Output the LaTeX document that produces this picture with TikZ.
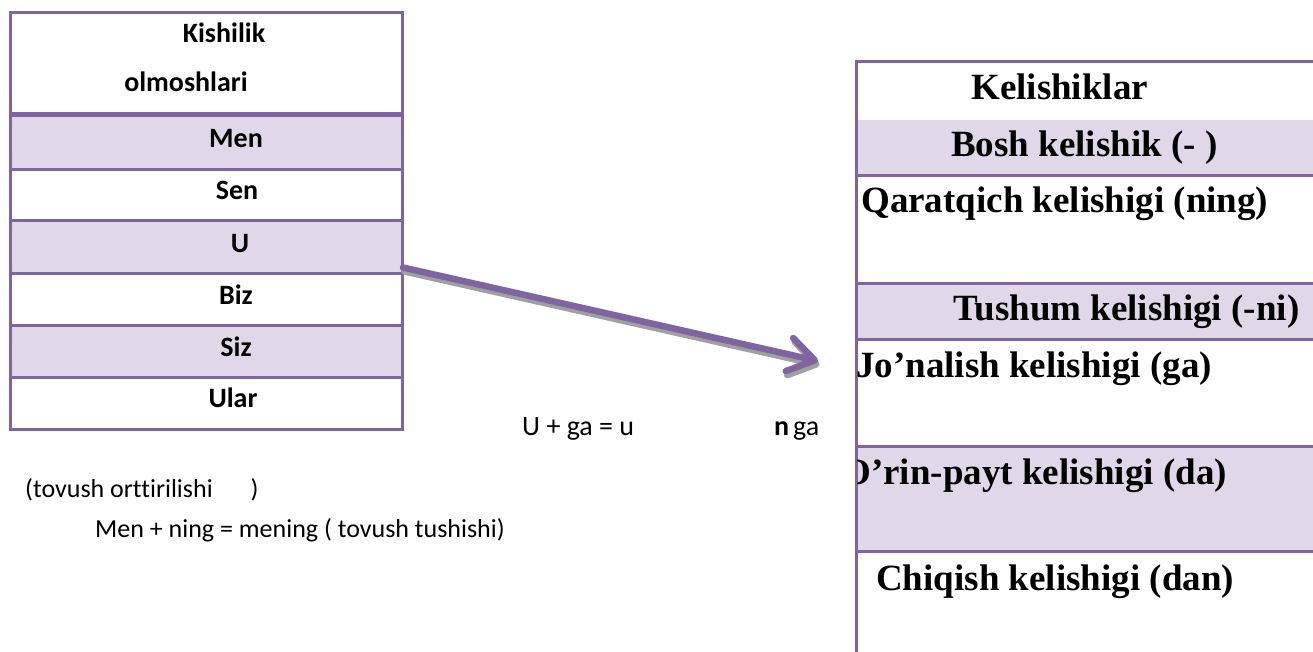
\documentclass[tikz,border=0pt]{standalone}
\usepackage{fontspec}
\setmainfont{Carlito}[Ligatures={NoCommon}]
\newfontfamily\tnr{Liberation Serif}
\usetikzlibrary{arrows.meta}
\definecolor{pur}{HTML}{8064A2}
\definecolor{lav}{HTML}{E0D8E8}
\definecolor{shd}{HTML}{A0A0A0}
\begin{document}
\begin{tikzpicture}[x=1pt,y=-1pt,
  ltxt/.style={anchor=base,font=\fontsize{28}{30}\selectfont\bfseries,inner sep=0pt},
  rtxt/.style={anchor=base west,font=\fontsize{37}{40}\selectfont\tnr\bfseries,inner sep=0pt},
  btxt/.style={anchor=base west,font=\fontsize{26}{28}\selectfont,inner sep=0pt},
  mtxt/.style={anchor=base west,font=\fontsize{28}{30}\selectfont,inner sep=0pt},
  gridline/.style={draw=pur,line width=3pt},
  arrowline/.style={line width=6.5pt,line cap=round,-{Straight Barb[length=26pt,width=34pt,line cap=round,line join=round]}}]
\useasboundingbox (0,0) rectangle (1313,652);
\clip (0,0) rectangle (1313,652);
% ---------- left table ----------
\fill[lav] (10.5,114.5) rectangle (402.5,169.5);
\fill[lav] (10.5,221) rectangle (402.5,273.3);
\fill[lav] (10.5,325.3) rectangle (402.5,377.5);
\foreach \yy in {169.5,221,273.3,325.3,377.5}
  \draw[gridline] (10.5,\yy) -- (402.5,\yy);
\draw[draw=pur,line width=5pt] (10.5,114.5) -- (402.5,114.5);
\draw[gridline] (10.5,13) rectangle (402.5,429);
\node[ltxt] (kis) at (224,43) {Kishilik};
\node[ltxt] (olm) at (186,92) {olmoshlari};
\node[ltxt] (men) at (236,148) {Men};
\node[ltxt] (sen) at (237,200) {Sen};
\node[ltxt] (u) at (240,252) {U};
\node[ltxt] (biz) at (236,304) {Biz};
\node[ltxt] (siz) at (236,356) {Siz};
\node[ltxt] (ular) at (233,407) {Ular};
% ---------- right table ----------
\fill[lav] (856,120) rectangle (1320,176);
\fill[lav] (856,283) rectangle (1320,339);
\fill[lav] (856,446.5) rectangle (1320,551);
\foreach \yy in {176,283,339,446.5,551}
  \draw[gridline] (856,\yy) -- (1320,\yy);
\draw[gridline] (1320,61.5) -- (856,61.5) -- (856,660);
\node[rtxt] (kel) at (971,100) {Kelishiklar};
\node[rtxt] (bosh) at (951,157) {Bosh kelishik (- )};
\node[rtxt] (qar) at (861,213) {Qaratqich kelishigi (ning)};
\node[rtxt] (tush) at (953,320) {Tushum kelishigi (-ni)};
\begin{scope}
\clip (857.5,340) rectangle (1313,560);
\node[rtxt] (jon) at (856,377) {Jo’nalish kelishigi (ga)};
\node[rtxt,anchor=base east] (orin) at (1227,484) {O’rin-payt kelishigi (da)};
\end{scope}
\node[rtxt] (chiq) at (876,590) {Chiqish kelishigi (dan)};
% ---------- arrow ----------
\coordinate (arrS) at (403,267.5);
\coordinate (arrE) at (818,361);
\draw[arrowline,shd,transform canvas={shift={(1.5,4)}}] (arrS) -- (arrE);
\draw[arrowline,pur] (arrS) -- (arrE);
% ---------- free texts ----------
\node[mtxt] (ug) at (522,435) {U + ga = u};
\node[mtxt] (nga) at (774,435) {\textbf{n}\kern4pt ga};
\node[btxt] (tov) at (25,497) {(tovush orttirilishi\hspace{38pt})};
\node[btxt] (menning) at (95,537) {Men + ning = mening ( tovush tushishi)};
\end{tikzpicture}
\end{document}
